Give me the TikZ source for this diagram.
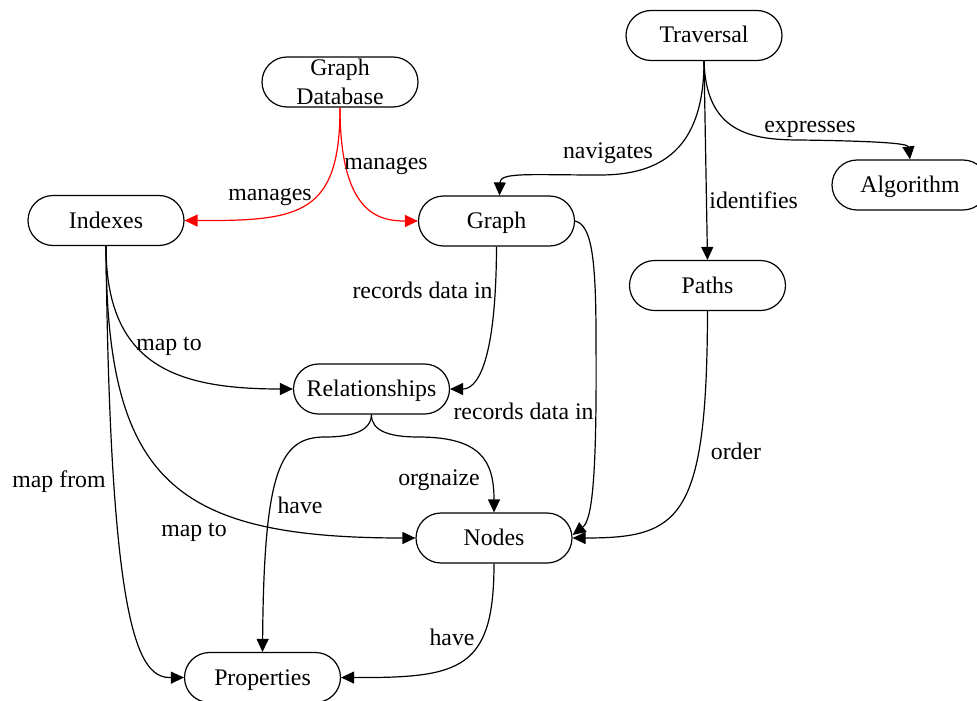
\documentclass[tikz,border=0pt]{standalone}
\usepackage{fontspec}
\setmainfont{Liberation Serif}
\usetikzlibrary{arrows.meta}
\begin{document}
\begin{tikzpicture}[x=0.5pt,y=-0.5pt,
  every node/.style={font=\fontsize{11.9}{14.5}\selectfont},
  line/.style={text height=7.9pt,text depth=0.4pt},
  conceptbox/.style={draw,rounded corners=12.5pt,minimum width=78pt,minimum height=25pt,inner sep=1pt,line width=0.6pt},
  concept/.style={conceptbox,line},
  link/.style={line width=0.6pt,-{Triangle[length=6.5pt,width=6pt]}},
  lbl/.style={inner sep=0pt,line}]
\useasboundingbox (0,0) rectangle (977,700);
\node[concept] (tra) at (704,35.5) {Traversal};
\node[concept] (alg) at (910,185) {Algorithm};
\node[conceptbox,align=center,inner ysep=-1pt] (gdb) at (340,82) {Graph\\Database};
\node[concept] (idx) at (106,220.5) {Indexes};
\node[concept] (grp) at (496.5,221) {Graph};
\node[concept] (pth) at (707.5,285.5) {Paths};
\node[concept] (rel) at (371.5,389) {Relationships};
\node[concept] (nod) at (494,538) {Nodes};
\node[concept] (prp) at (262.5,677.5) {Properties};
\draw[link,red] (gdb.south) .. controls (340,215) and (300,221) .. (idx.east);
\draw[link,red] (gdb.south) .. controls (340,215) and (380,221) .. (grp.west);
\draw[link] (tra.south) .. controls (704,150) and (660,175) .. (600,175) .. controls (530,175) and (500,172) .. ([xshift=1.5pt]grp.north);
\draw[link] (tra.south) -- (pth.north);
\draw[link] (tra.south) .. controls (706,132) and (750,140) .. (800,140) .. controls (870,141) and (908,143) .. (alg.north);
\draw[link] (grp.south) .. controls (496,370) and (475,389) .. (rel.east);
\draw[link] (grp.east) .. controls (592,225) and (596,260) .. (596,340) .. controls (597,480) and (592,520) .. ([yshift=1.5pt]nod.east);
\draw[link] (pth.south) .. controls (707,520) and (680,538) .. (nod.east);
\draw[link] (idx.south) .. controls (106,365) and (175,389) .. (rel.west);
\draw[link] (idx.south) .. controls (106,480) and (173,538) .. (nod.west);
\draw[link] (idx.south) .. controls (110,640) and (140,678) .. (prp.west);
\draw[link] (rel.south) .. controls (371,432) and (350,437) .. (325,437) .. controls (280,437) and (264,470) .. (prp.north);
\draw[link] (rel.south) .. controls (371,432) and (392,437) .. (418,437) .. controls (480,437) and (494,460) .. (nod.north);
\draw[link] (nod.south) .. controls (494,670) and (460,678) .. (prp.east);
\node[lbl] (mng1) at (270,193) {manages};
\node[lbl] (mng2) at (386,162) {manages};
\node[lbl] (nav) at (608,151) {navigates};
\node[lbl,anchor=west] (ide) at (709,201) {identifies};
\node[lbl] (exp) at (810,125) {expresses};
\node[lbl,anchor=east] (rec1) at (493,291) {records data in};
\node[lbl,anchor=east] (rec2) at (594,412) {records data in};
\node[lbl] (ord) at (736,452) {order};
\node[lbl] (map1) at (169,343) {map to};
\node[lbl] (map2) at (194,529) {map to};
\node[lbl,anchor=east] (mapf) at (106,480) {map from};
\node[lbl] (hav1) at (300,506) {have};
\node[lbl] (org) at (439,478) {orgnaize};
\node[lbl] (hav2) at (452,638) {have};
\end{tikzpicture}
\end{document}
